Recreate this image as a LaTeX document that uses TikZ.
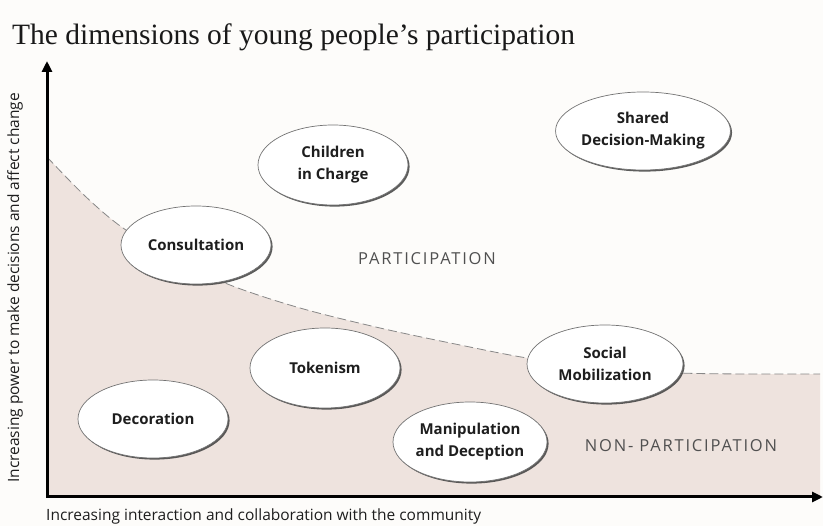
\documentclass[tikz,border=0pt]{standalone}
\usepackage{fontspec}
\setmainfont{Liberation Serif}
\newfontfamily\labfont{Open Sans}
\newfontfamily\spacedfont[LetterSpace=11]{Open Sans}
\usetikzlibrary{shapes.geometric,shadows,arrows.meta}
\definecolor{shadecol}{RGB}{238,227,222}
\definecolor{bgcol}{RGB}{253,252,250}
\definecolor{edgecol}{RGB}{115,115,115}
\definecolor{txtcol}{RGB}{30,30,30}
\definecolor{zonecol}{RGB}{80,80,80}
\begin{document}
\begin{tikzpicture}[x=1pt,y=-1pt,
  bubble/.style={ellipse, draw=edgecol, line width=0.7pt, fill=white,
    minimum width=150pt, minimum height=78pt, inner sep=0pt, align=center,
    font=\labfont\bfseries\fontsize{15}{22}\selectfont, text=txtcol,
    drop shadow={shadow xshift=1.6pt, shadow yshift=-1.6pt, fill=black!75, opacity=0.85}},
  zone/.style={font=\spacedfont\fontsize{16.5}{19}\selectfont, text=zonecol},
  axislabel/.style={font=\labfont\fontsize{15.5}{18}\selectfont, text=txtcol},
  axisline/.style={line width=3pt, line join=miter, {Triangle[length=11pt,width=10pt]}-{Triangle[length=11pt,width=10pt]}}
]
\fill[bgcol] (0,0) rectangle (823,526);
\useasboundingbox (0,0) rectangle (823,526);
\def\curvepts{(47,157) (85,196) (123,228) (175,259) (230,285) (300,308) (380,328) (460,345) (527,358) (600,368) (680,373) (750,374) (820,374)}
% shaded non-participation zone
\fill[shadecol] (47,497) -- plot[smooth, tension=0.55] coordinates {\curvepts} -- (820,497) -- cycle;
\draw[edgecol!85, line width=0.8pt, dash pattern=on 9pt off 4pt] plot[smooth, tension=0.55] coordinates {\curvepts};
% axes
\coordinate (O) at (47,497);
\coordinate (ytop) at (47,61);
\coordinate (xend) at (823,497);
\draw[axisline] (ytop) -- (O) -- (xend);
% title
\node[anchor=base west, inner sep=0pt, font=\fontsize{29.5}{34}\selectfont, text=black!90] (title) at (12,45) {The dimensions of young people’s participation};
% axis labels
\node[axislabel, rotate=90] (ylab) at (15,288) {Increasing power to make decisions and affect change};
\node[axislabel, anchor=west, inner sep=0pt] (xlab) at (46,516) {Increasing interaction and collaboration with the community};
% zones
\node[zone] (part) at (427,259) {PARTICIPATION};
\node[zone] (nonpart) at (681,446) {NON-\hspace{6pt}PARTICIPATION};
% bubbles
\node[bubble] (consult) at (196,245) {Consultation};
\node[bubble, minimum height=80pt] (children) at (333,165) {Children\\in Charge};
\node[bubble] (shared) at (643,131) {Shared\\Decision-Making};
\node[bubble, minimum height=80pt] (token) at (325,368) {Tokenism};
\node[bubble] (decor) at (153,419) {Decoration};
\node[bubble, minimum width=154pt, minimum height=80pt] (manip) at (470,442) {Manipulation\\and Deception};
\node[bubble, minimum width=156pt] (social) at (605,364) {Social\\Mobilization};
\end{tikzpicture}
\end{document}
